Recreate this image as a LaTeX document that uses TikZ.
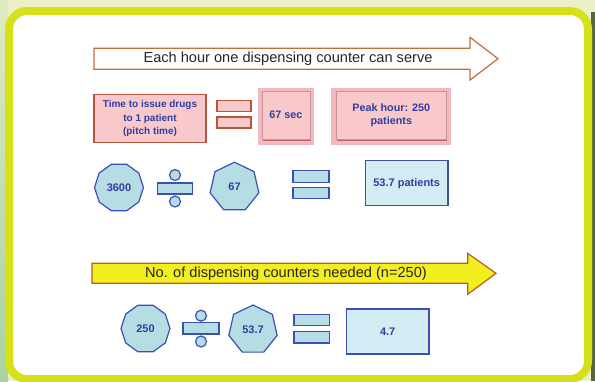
\documentclass[tikz,border=0pt]{standalone}
\usepackage{fontspec}
\setmainfont{Liberation Sans}
\usetikzlibrary{shapes.geometric,shadows}
\definecolor{bgtop}{HTML}{ECF0C6}
\definecolor{bgleft}{HTML}{A9D2A2}
\definecolor{bgright}{HTML}{55683A}
\definecolor{framey}{HTML}{D6E11C}
\definecolor{bluefill}{HTML}{B5DDE3}
\definecolor{bluelite}{HTML}{D4ECF4}
\definecolor{blueline}{HTML}{3C50B4}
\definecolor{bluetext}{HTML}{2F3EA0}
\definecolor{pinkfill}{HTML}{F8C8CB}
\definecolor{pinkglow}{HTML}{F4B9BE}
\definecolor{brownline}{HTML}{B4553C}
\definecolor{arrowline}{HTML}{C0703F}
\definecolor{yellowfill}{HTML}{F3EE1E}
\definecolor{yellowline}{HTML}{B8602A}
\tikzset{
  shapetext/.style={font=\bfseries\fontsize{11}{13}\selectfont, text=bluetext},
  decag/.style={regular polygon, regular polygon sides=10, minimum size=49pt, inner sep=0pt, draw=blueline, fill=bluefill, line width=1.2pt, shapetext},
  heptag/.style={regular polygon, regular polygon sides=7, minimum size=50pt, inner sep=0pt, draw=blueline, fill=bluefill, line width=1.2pt, shapetext},
  bluebar/.style={rectangle, minimum width=35pt, minimum height=11pt, inner sep=0pt, draw=blueline, fill=bluefill, line width=1.2pt},
  bluedot/.style={circle, minimum size=11pt, inner sep=0pt, draw=blueline, fill=bluefill, line width=1.2pt},
  resultbox/.style={rectangle, minimum width=82.5pt, minimum height=45pt, inner sep=0pt, draw=blueline, fill=bluelite, line width=1.2pt, shapetext},
  pinkbar/.style={rectangle, minimum width=34pt, minimum height=11pt, inner sep=0pt, draw=brownline, fill=pinkfill, line width=1.2pt},
  pinkbox/.style={rectangle, inner sep=0pt, fill=pinkfill, draw=pinkglow!80!black, line width=0.4pt,
     drop shadow={shadow xshift=0.8pt, shadow yshift=-1.6pt, opacity=0.45, fill=black!55!red},
     font=\bfseries\fontsize{10.8}{13.5}\selectfont, text=bluetext, align=center},
  arrowtext/.style={font=\fontsize{14.6}{16}\selectfont, text=black!85},
}
\begin{document}
\begin{tikzpicture}[x=1pt,y=-1pt]
\useasboundingbox (0,0) rectangle (595,381);
% background
\fill[bgtop] (0,0) rectangle (595,381);
\shade[top color=bgtop!80!bgleft, bottom color=bgleft] (0,0) rectangle (8,381);
\fill[bgright] (591,12) rectangle (595,381);
% frame
\draw[framey, line width=8pt, fill=white, rounded corners=18pt] (9,11) rectangle (588,379);

% top arrow
\draw[arrowline, fill=white, line width=1.2pt, line join=miter]
  (94,48.3) -- (470,48.3) -- (470,37.3) -- (498,58.7) -- (470,80) -- (470,69.3) -- (94,69.3) -- cycle;
\node[arrowtext] (toptext) at (288,59) {Each hour one dispensing counter can serve};

% pink row
\node[rectangle, minimum width=112pt, minimum height=48.4pt, inner sep=0pt, draw=brownline, fill=pinkfill, line width=1.2pt,
      font=\bfseries\fontsize{10}{13.6}\selectfont, text=bluetext, align=center]
  (pitch) at (150,118.5) {Time to issue drugs\\to 1 patient\\(pitch time)};
\node[pinkbar] (peq1) at (234,105.8) {};
\node[pinkbar] (peq2) at (234,122.4) {};
\fill[pinkglow] (258,88) rectangle (314,145);
\fill[pinkglow] (331,88) rectangle (451,145);
\node[pinkbox, minimum width=48pt, minimum height=48.6pt] (secbox) at (286,115) {67 sec};
\node[pinkbox, minimum width=110.7pt, minimum height=48.3pt] (peak) at (391.3,115) {Peak hour: 250\\patients};

% first equation
\node[decag] (n3600) at (119,187.5) {3600};
\node[bluebar] (div1) at (175,188.5) {};
\node[bluedot] (div1a) at (175,175) {};
\node[bluedot] (div1b) at (175,201.5) {};
\node[heptag] (n67) at (234.5,187.2) {67};
\node[bluebar, minimum width=36pt, minimum height=11.6pt] (eq1a) at (311,176.5) {};
\node[bluebar, minimum width=36pt, minimum height=11.6pt] (eq1b) at (311,193) {};
\node[resultbox] (res1) at (406.7,183.2) {53.7 patients};

% bottom arrow
\draw[yellowline, fill=yellowfill, line width=1.2pt, line join=miter]
  (92,263.3) -- (467.7,263.3) -- (467.7,253.3) -- (496,273.3) -- (467.7,294.3) -- (467.7,283.3) -- (92,283.3) -- cycle;
\node[arrowtext] (bottext) at (286,274) {No. of dispensing counters needed (n=250)};

% second equation
\node[decag] (n250) at (145.5,328.5) {250};
\node[bluebar, minimum width=36pt, minimum height=11.3pt] (div2) at (201,328.3) {};
\node[bluedot] (div2a) at (201,315.7) {};
\node[bluedot] (div2b) at (201,341.5) {};
\node[heptag, minimum size=49.6pt] (n537) at (253,329.8) {53.7};
\node[bluebar, minimum width=35.4pt, minimum height=11pt] (eq2a) at (311.7,320.3) {};
\node[bluebar, minimum width=35.4pt, minimum height=11.3pt] (eq2b) at (311.7,337.3) {};
\node[resultbox, fill=bluelite] (res2) at (387.7,331.5) {4.7};
\end{tikzpicture}
\end{document}
